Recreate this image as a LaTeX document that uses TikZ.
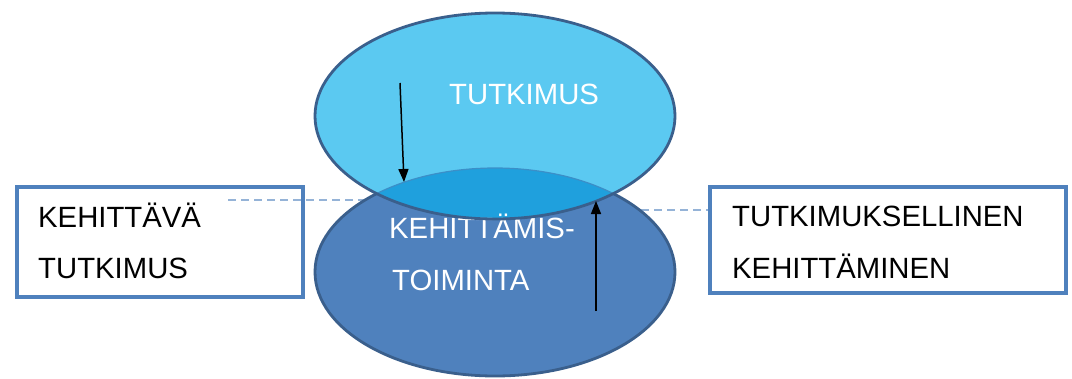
\documentclass[tikz,border=0pt]{standalone}
\usepackage{fontspec}
\setmainfont{Liberation Sans}
\usetikzlibrary{arrows.meta}
\definecolor{lightb}{HTML}{5BC9F1}
\definecolor{darkb}{HTML}{4F81BD}
\definecolor{midb}{HTML}{1FA0DD}
\definecolor{faintb}{HTML}{3B8FC8}
\definecolor{edgeb}{HTML}{3A5F8C}
\definecolor{boxb}{HTML}{4F81BD}
\definecolor{dashb}{HTML}{95B3D7}
\tikzset{
  txtbox/.style={draw=boxb, line width=3.6pt, fill=white, inner sep=0pt},
  lbl/.style={anchor=base west, inner sep=0pt, font=\fontsize{29.3}{34}\selectfont},
  wlbl/.style={lbl, text=white},
  conn/.style={dashb, line width=1.4pt, dash pattern=on 8pt off 5pt},
  arr/.style={black, line width=1.5pt, -{Triangle[length=13pt,width=10pt]}},
  outl/.style={edgeb, line width=2.8pt}
}
\begin{document}
\begin{tikzpicture}[x=1pt,y=-1pt]
\useasboundingbox (0,0) rectangle (1072,378);
% boxes
\node[txtbox, minimum width=286pt, minimum height=110pt] (lbox) at (160,242) {};
\node[txtbox, minimum width=356pt, minimum height=106pt] (rbox) at (888,240) {};
\node[lbl] (l1) at (38,227) {KEHITTÄVÄ};
\node[lbl] (l2) at (38,278) {TUTKIMUS};
\node[lbl] (r1) at (732,226) {TUTKIMUKSELLINEN};
\node[lbl] (r2) at (732,278) {KEHITTÄMINEN};
% dashed connectors (under ellipses)
\coordinate (ldA) at (228,200);
\coordinate (ldB) at (385,200);
\coordinate (rdA) at (615,210);
\draw[conn] (ldA) -- (ldB);
\draw[conn] (rdA) -- (rbox.west |- rdA);
% ellipses
\fill[darkb] (495,272) ellipse [x radius=180, y radius=104];
\draw[outl] (495,272) ellipse [x radius=180, y radius=104];
\fill[lightb] (495,116) ellipse [x radius=180, y radius=103];
\begin{scope}
  \clip (495,116) ellipse [x radius=180, y radius=103];
  \fill[midb] (495,272) ellipse [x radius=180, y radius=104];
  \draw[faintb, line width=1.2pt] (495,272) ellipse [x radius=180, y radius=104];
\end{scope}
\node[wlbl] (t1) at (389,238) {KEHITTÄMIS-};
\node[wlbl] (t2) at (392,290) {TOIMINTA};
\draw[outl] (495,116) ellipse [x radius=180, y radius=103];
\node[wlbl] (tut) at (449,104) {TUTKIMUS};
% arrows
\coordinate (a1s) at (400,83);
\coordinate (a1e) at (404,182);
\coordinate (a2s) at (596,311);
\coordinate (a2e) at (596,201);
\draw[arr] (a1s) -- (a1e);
\draw[arr] (a2s) -- (a2e);
\end{tikzpicture}
\end{document}
